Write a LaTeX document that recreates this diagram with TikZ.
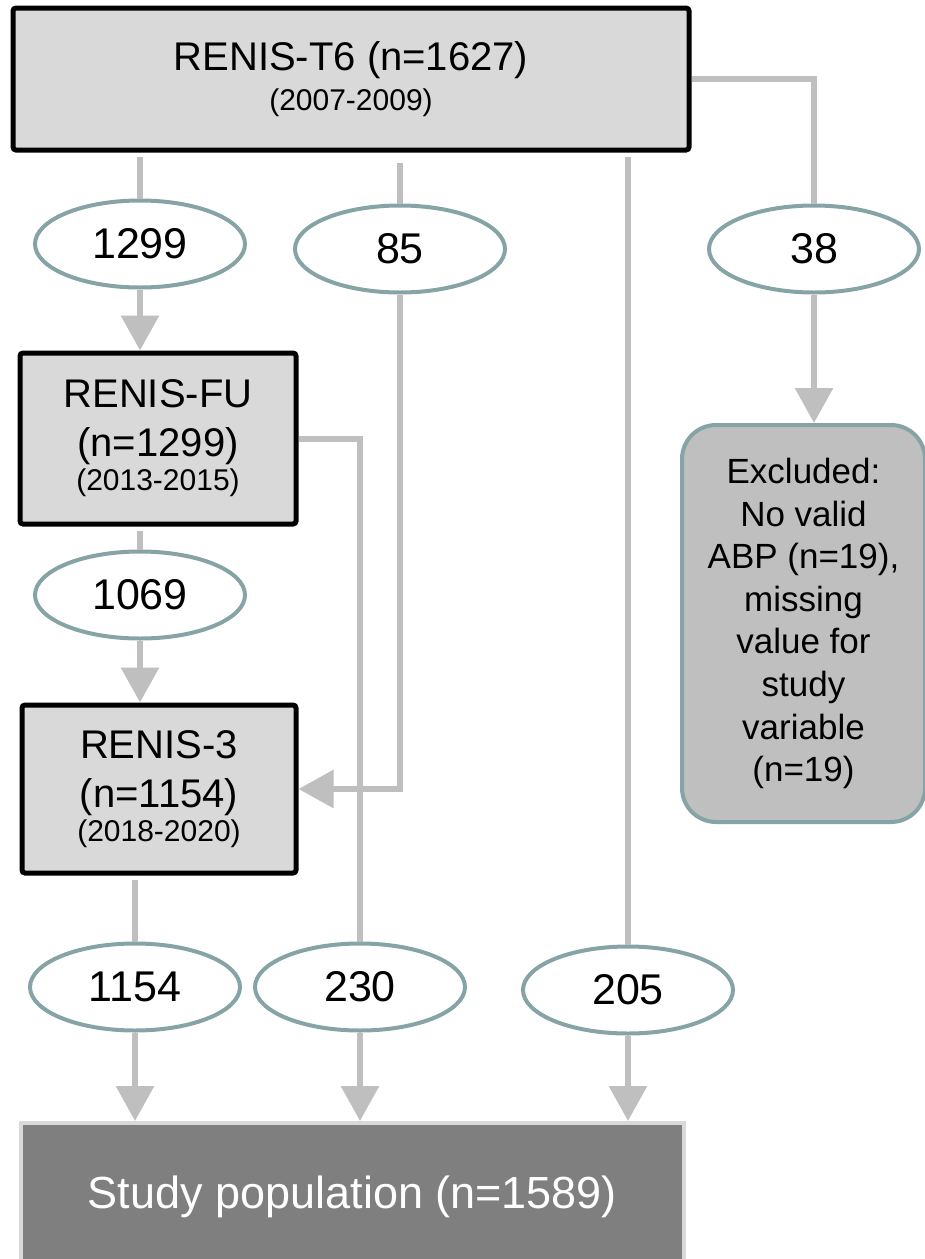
\documentclass[tikz,border=0pt]{standalone}
\usepackage{fontspec}
\setmainfont{Liberation Sans}
\usetikzlibrary{arrows.meta,shapes.geometric,positioning,calc}
\definecolor{boxGray}{HTML}{D9D9D9}
\definecolor{lineGray}{HTML}{BFBFBF}
\definecolor{rimTeal}{HTML}{86A3A6}
\definecolor{studyGray}{HTML}{7F7F7F}

\begin{document}
\begin{tikzpicture}[x=0.5pt,y=-0.5pt,
				cohortBox/.style={draw=black,line width=2.5pt,fill=boxGray,rounded corners=1.5pt,align=center,inner sep=0pt,font=\fontsize{20}{24.5}\selectfont},
				countEllipse/.style={ellipse,draw=rimTeal,line width=2pt,fill=white,minimum width=105pt,minimum height=43.5pt,inner sep=0pt,font=\fontsize{21.5}{26}\selectfont},
				exclBox/.style={draw=rimTeal,line width=2pt,fill=lineGray,rounded corners=17pt,align=center,inner sep=0pt,minimum width=121.5pt,minimum height=198.5pt,font=\fontsize{17.5}{21.3}\selectfont},
				studyBox/.style={draw=boxGray,line width=2pt,fill=studyGray,inner sep=0pt,minimum width=331.5pt,minimum height=73.5pt,text=white,font=\fontsize{22.5}{27}\selectfont},
				flowLine/.style={draw=lineGray,line width=3pt},
				flowArrow/.style={flowLine,-{Triangle[length=17.5pt,width=18.5pt]}}]
			\useasboundingbox (0,0) rectangle (925,1259);
			% cohorts
			\node [cohortBox,minimum width=338pt,minimum height=71pt] (t6) at (351,79) {RENIS-T6 (n=1627)\\[-4.5pt]{\fontsize{15}{18}\selectfont (2007-2009)}};
			\node [cohortBox,minimum width=138pt,minimum height=85.5pt] (fu) at (158,438.5) {RENIS-FU\\(n=1299)\\[-7.5pt]{\fontsize{15}{18}\selectfont (2013-2015)}};
			\node [cohortBox,minimum width=137pt,minimum height=84pt] (r3) at (159,789) {RENIS-3\\(n=1154)\\[-7.5pt]{\fontsize{15}{18}\selectfont (2018-2020)}};
			\node [exclBox] (excl) at (803.5,623.5) {Excluded:\\No valid\\ABP (n=19),\\missing\\value for\\study\\variable\\(n=19)};
			\node [studyBox] (study) at (352.5,1196.5) {Study population (n=1589)};
			% counts
			\node [countEllipse] (e1299) at (140,244) {1299};
			\node [countEllipse] (e85) at (400,249) {85};
			\node [countEllipse] (e38) at (814,249) {38};
			\node [countEllipse] (e1069) at (140,595) {1069};
			\node [countEllipse] (e1154) at (135,987) {1154};
			\node [countEllipse] (e230) at (360,987) {230};
			\node [countEllipse] (e205) at (628,990) {205};
			% flows
			\draw [flowLine] ($(e1299.north |- t6.south)+(0,4)$) -- (e1299.north);
			\draw [flowArrow] (e1299.south) -- (e1299.south |- fu.north);
			\draw [flowLine] ($(e85.north |- t6.south)+(0,10)$) -- (e85.north);
			\draw [flowArrow] (e85.south) |- (r3.east);
			\draw [flowLine] ($(e205.north |- t6.south)+(0,4)$) -- (e205.north);
			\draw [flowArrow] (e205.south) -- (e205.south |- study.north);
			\draw [flowLine] (t6.east) -| (e38.north);
			\draw [flowArrow] (e38.south) -- (e38.south |- excl.north);
			\draw [flowLine] ($(e1069.north |- fu.south)+(0,4)$) -- (e1069.north);
			\draw [flowArrow] (e1069.south) -- (e1069.south |- r3.north);
			\draw [flowLine] (fu.east) -| (e230.north);
			\draw [flowArrow] (e230.south) -- (e230.south |- study.north);
			\draw [flowLine] ($(e1154.north |- r3.south)+(0,4)$) -- (e1154.north);
			\draw [flowArrow] (e1154.south) -- (e1154.south |- study.north);
		\end{tikzpicture}
\end{document}
